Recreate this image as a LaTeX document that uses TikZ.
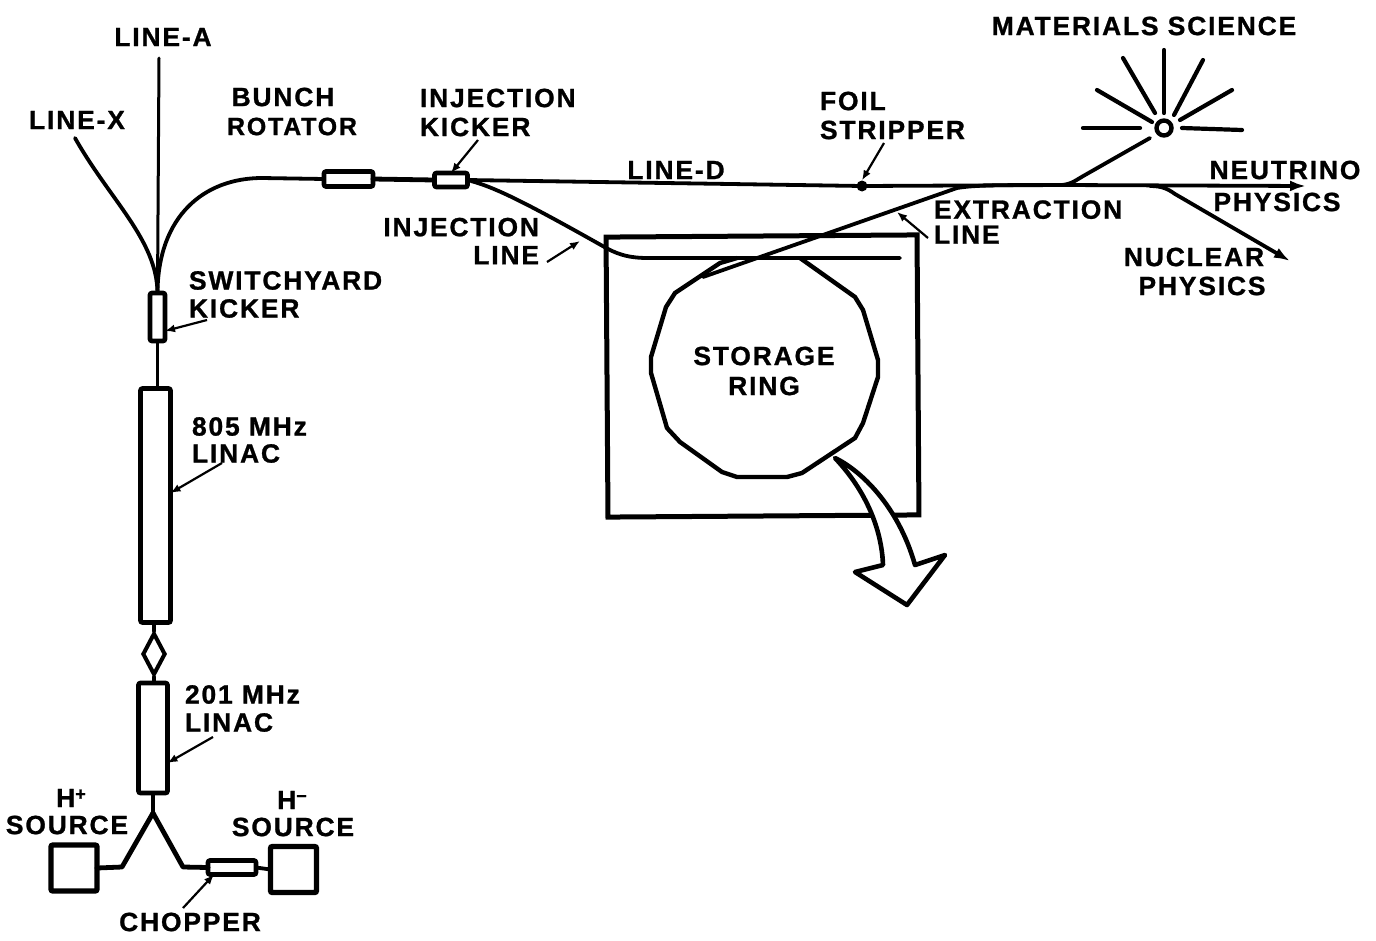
\documentclass[tikz,border=0pt]{standalone}
\usepackage{fontspec}
\setmainfont[LetterSpace=7,BoldFeatures={FakeBold=1}]{Liberation Sans}
\usetikzlibrary{arrows.meta,shapes.geometric}
\tikzset{
  lbl/.style={font=\fontsize{26.4}{28}\selectfont\bfseries,inner sep=0pt,outer sep=0pt,text=black},
  beam/.style={line width=3.8pt,line cap=round,line join=round},
  thin beam/.style={line width=3pt,line cap=round,line join=round},
  ray/.style={line width=4.2pt,line cap=round},
  leader/.style={line width=2.2pt,-{Latex[length=10pt,width=8pt]}},
  elem/.style={draw,line width=4.6pt,rectangle,rounded corners=2pt,fill=white,inner sep=0pt,outer sep=0pt},
  srcbox/.style={elem,line width=5.4pt,minimum width=46pt,minimum height=46pt},
  endtip/.style={-{Latex[length=16pt,width=11pt]}}
}
\begin{document}
\begin{tikzpicture}[x=1pt,y=-1pt]
\useasboundingbox (0,0) rectangle (1376,940);
% free ends and junctions
\coordinate (atop) at (159,58);
\coordinate (xtop) at (75,138);
\coordinate (curveend) at (262,178);
\coordinate (split) at (153,813);
\coordinate (lbend) at (122,867);
\coordinate (rbend) at (183,867);
\coordinate (injfork) at (471,181);
\coordinate (dend) at (1306,186);
\coordinate (extstart) at (703,277);
\coordinate (extjoin) at (1062,185);
\coordinate (nucfork) at (1150,186);
\coordinate (nucend) at (1290,261);
\coordinate (inj1) at (608,249);
\coordinate (inj2) at (648,258);
\coordinate (injend) at (900,258);
\coordinate (ms) at (1164,128);
\coordinate (msend) at (1150,138);
% leader tails
\coordinate (t1) at (478,140);
\coordinate (t2) at (547,262);
\coordinate (t2e) at (580,241);
\coordinate (t3) at (207,320);
\coordinate (t4) at (222,463);
\coordinate (t5) at (213,737);
\coordinate (t6) at (183,908);
\coordinate (t7) at (884,143);
\coordinate (t8) at (928,238);
\coordinate (t8e) at (897,212);
% elements
\node[elem,minimum width=15pt,minimum height=48pt] (swk) at (157.5,317) {};
\node[elem,minimum width=30pt,minimum height=234pt] (l805) at (155.5,505.5) {};
\node[draw,diamond,line width=4pt,aspect=0.55,minimum width=23pt,minimum height=42pt,inner sep=0pt,fill=white] (dia) at (154,654) {};
\node[elem,minimum width=29pt,minimum height=110pt] (l201) at (153,738) {};
\node[srcbox] (hp) at (74,868) {};
\node[srcbox] (hm) at (293.5,869.5) {};
\node[elem,minimum width=48pt,minimum height=14pt] (chop) at (232,867.5) {};
\node[elem,minimum width=49pt,minimum height=15pt] (bunch) at (348.5,179) {};
\node[elem,minimum width=33pt,minimum height=14pt] (ikick) at (451,180) {};
\node[draw,line width=5pt,minimum width=311pt,minimum height=280pt,inner sep=0pt,rotate=0.4] (sbox) at (762.5,376) {};
\node[circle,draw,line width=4.4pt,minimum size=15pt,inner sep=0pt] (target) at (ms) {};
\node[circle,fill,minimum size=11pt,inner sep=0pt] (foil) at (862,186) {};
% beam lines
\draw[thin beam] (atop) -- (swk.north);
\draw[beam] (xtop) .. controls (110,200) and (157,240) .. (swk.north);
\draw[beam] (swk.north) .. controls (158,215) and (205,178) .. (curveend) -- (bunch.west);
\draw[beam] (swk.south) -- (swk.south |- l805.north);
\draw[beam] (dia.north |- l805.south) -- (dia.north);
\draw[beam] (dia.south) -- (dia.south |- l201.north);
\draw[beam] (l201.south) -- (split);
\draw[beam,line width=4.8pt] (split) -- (lbend) -- (hp.east);
\draw[beam,line width=4.8pt] (split) -- (rbend) -- (chop.west);
\draw[beam] (chop.east) -- (hm.west);
\draw[beam,line width=4.8pt] (bunch.east) -- (ikick.west);
\draw[beam,endtip] (ikick.east) -- (foil.center) -- (extjoin) -- (dend);
\draw[beam] (injfork) .. controls (497,188) and (530,205) .. (inj1) .. controls (620,255) and (630,258) .. (inj2) -- (injend);
% storage ring
\draw[line width=4.4pt,line join=round,fill=none]
  (737,258) -- (720,263) -- (675,293) -- (666,307) -- (651,357) -- (651,373) -- (667,428) -- (680,442)
  -- (722,472) -- (737,477) -- (787,477) -- (802,473) -- (855,438) -- (863,423) -- (878,377) -- (878,360)
  -- (863,310) -- (855,297) -- (800,258);
\node[lbl,align=center] (ringlbl) at (764,371) {STORAGE\\[2pt]RING};
% extraction
\draw[beam] (extstart) -- (957,188) .. controls (975,185) and (1000,185) .. (extjoin);
% materials science
\draw[beam] (extjoin) .. controls (1072,184) and (1076,180) .. (1085,175) -- (msend);
\draw[ray] (1140,128) -- (1083,128);
\draw[ray] (1182,128) -- (1242,130);
\draw[ray] (1164,113) -- (1164,50);
\draw[ray] (1155,113) -- (1123,58);
\draw[ray] (1174,115) -- (1203,60);
\draw[ray] (1152,122) -- (1097,90);
\draw[ray] (1180,120) -- (1232,90);
% nuclear
\draw[beam,endtip] (nucfork) .. controls (1162,186) and (1168,189) .. (1175,194) -- (nucend);
% big arrow
\draw[line width=4.6pt,line join=round,fill=white] (835,458)
  .. controls (860,470) and (898,505) .. (915,565) -- (945,555) -- (907,605) -- (855,572) -- (883,565)
  .. controls (882,535) and (870,495) .. cycle;
% labels
\node[lbl] (la) at (163,37) {LINE-A};
\node[lbl] (lx) at (77,120) {LINE-X};
\node[lbl,align=center] (lb) at (292,111.5) {\hspace*{-18pt}BUNCH\\[1pt]\fontsize{25}{28}\selectfont ROTATOR};
\node[lbl,align=left,anchor=west] (li) at (420,112.5) {INJECTION\\[1pt]KICKER};
\node[lbl,align=right,anchor=east] (lil) at (539,241) {INJECTION\\LINE};
\node[lbl,align=left,anchor=west] (ls) at (189,294.5) {SWITCHYARD\\KICKER};
\node[lbl,align=left,anchor=west] (l8) at (192,440) {805 MHz\\[-1pt]LINAC};
\node[lbl,align=left,anchor=west] (l2) at (185,708.5) {201 MHz\\LINAC};
\node[lbl] (hpl) at (71,798) {H\raisebox{7pt}{\fontsize{18}{18}\selectfont +}};
\node[lbl] (hps) at (67,825) {SOURCE};
\node[lbl] (hml) at (292,800) {H\raisebox{7pt}{\fontsize{18}{18}\selectfont −}};
\node[lbl] (hms) at (293,827) {SOURCE};
\node[lbl] (lc) at (190,922) {CHOPPER};
\node[lbl] (ld) at (676,170) {LINE-D};
\node[lbl,align=left,anchor=west] (lf) at (820,115.5) {FOIL\\[1pt]STRIPPER};
\node[lbl,align=left,anchor=west] (le) at (934,222) {EXTRACTION\\[-3pt]LINE};
\node[lbl] (lm) at (1144,26) {MATERIALS SCIENCE};
\node[lbl,align=center] (lnu) at (1285,186) {NEUTRINO\\[4pt]\hspace*{-16pt}PHYSICS};
\node[lbl,align=center] (lnc) at (1194,271.5) {NUCLEAR\\[1pt]\hspace*{16pt}PHYSICS};
% leaders
\draw[leader] (t1) -- (ikick.north);
\draw[leader] (t2) -- (t2e);
\draw[leader] (t3) -- (swk.east |- 0,331);
\draw[leader] (t4) -- (l805.east |- 0,493);
\draw[leader] (t5) -- (l201.east |- 0,763);
\draw[leader] (t6) -- (chop.south -| 214,0);
\draw[leader] (t7) -- (foil.north);
\draw[leader] (t8) -- (t8e);
\end{tikzpicture}
\end{document}
